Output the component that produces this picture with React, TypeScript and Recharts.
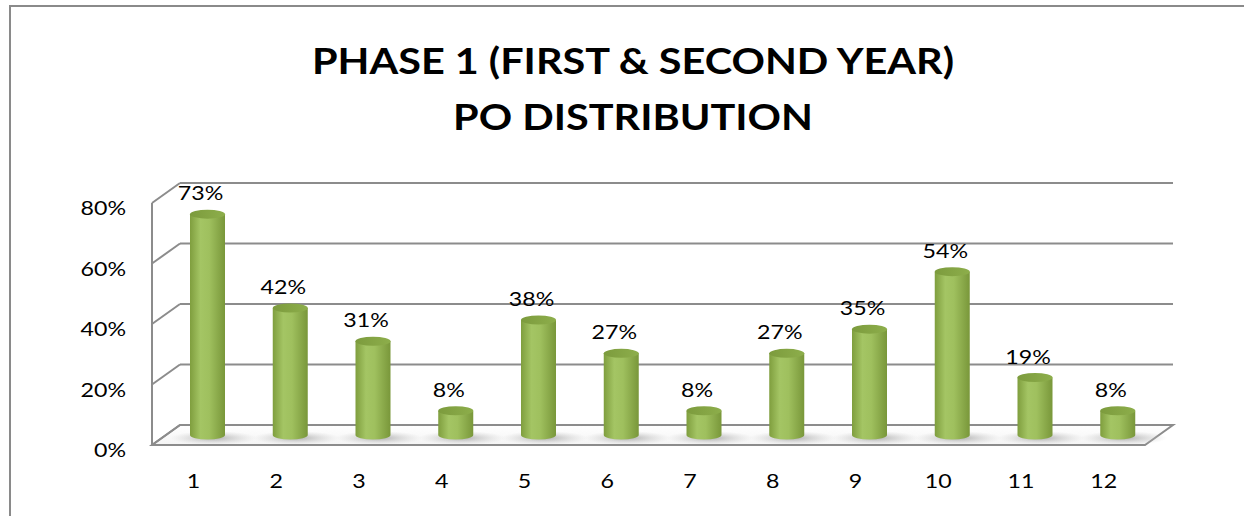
import React from 'react';
import { BarChart, Bar, XAxis, YAxis, CartesianGrid, LabelList } from 'recharts';

const categories = ['1', '2', '3', '4', '5', '6', '7', '8', '9', '10', '11', '12'];
const poValues = [0.73, 0.42, 0.31, 0.08, 0.38, 0.27, 0.08, 0.27, 0.35, 0.54, 0.19, 0.08];
const yTicks = [0, 0.2, 0.4, 0.6, 0.8];

const data = categories.map((name, i) => ({ name, value: poValues[i] }));

// depth of the fake 3D box
const DX = 28;
const DY = -20;
const GRID = '#8c8c8c';
const FONT = 'Lato, "Open Sans", sans-serif';
const STRETCH = 1.16; // reference text is a bit wider than Lato

const pct = (v: number) => `${Math.round(v * 100)}%`;

const WideText = ({ x, y, anchor, children }: any) => (
  <text
    transform={`translate(${x},${y}) scale(${STRETCH},1)`}
    textAnchor={anchor}
    fontSize={20}
    fontFamily={FONT}
    fill="#000"
  >
    {children}
  </text>
);

// back-wall gridline + left-wall diagonal, floor for the 0% line
const GridLine = (props: any) => {
  const { x1, y1, x2, y2, y, height } = props;
  const isFloor = Math.abs(y1 - (y + height)) < 1;
  return (
    <g>
      {isFloor && (
        <polygon
          points={`${x1},${y1} ${x2},${y2} ${x2 + DX},${y2 + DY} ${x1 + DX},${y1 + DY}`}
          fill="url(#floorFill)"
          stroke={GRID}
          strokeWidth={2}
        />
      )}
      <line x1={x1} y1={y1} x2={x1 + DX} y2={y1 + DY} stroke={GRID} strokeWidth={2} />
      <line x1={x1 + DX} y1={y1 + DY} x2={x2 + DX} y2={y2 + DY} stroke={GRID} strokeWidth={2} />
    </g>
  );
};

const Cylinder = (props: any) => {
  const { x, y, width, height } = props;
  const rx = width / 2;
  const ry = 4.5;
  const cx = x + rx + DX / 2;
  const top = y + DY / 2;
  const bottom = y + height + DY / 2;
  return (
    <g>
      <ellipse cx={cx + 6} cy={bottom + 3} rx={rx + 26} ry={7} fill="url(#shadowFill)" />
      <path
        d={`M${cx - rx},${top} L${cx - rx},${bottom} A${rx},${ry} 0 0 0 ${cx + rx},${bottom} L${cx + rx},${top} Z`}
        fill="url(#bodyFill)"
      />
      <ellipse cx={cx} cy={top} rx={rx} ry={ry} fill="url(#topFill)" />
    </g>
  );
};

const ValueLabel = (props: any) => {
  const { x, y, width, value } = props;
  return (
    <WideText x={x + width / 2 + 7} y={y - 24} anchor="middle">
      {pct(value)}
    </WideText>
  );
};

const YTick = (props: any) => {
  const { x, y, payload } = props;
  return (
    <WideText x={x} y={y + 12} anchor="end">
      {pct(payload.value)}
    </WideText>
  );
};

const XTick = (props: any) => {
  const { x, y, payload } = props;
  return (
    <WideText x={x} y={y + 43} anchor="middle">
      {payload.value}
    </WideText>
  );
};

export default function App() {
  return (
    <div style={{ position: 'absolute', left: 0, top: 0, width: 1244, height: 516, overflow: 'hidden', background: '#fff' }}>
      <svg width={0} height={0} style={{ position: 'absolute' }}>
        <defs>
          <linearGradient id="bodyFill" x1="0" y1="0" x2="1" y2="0">
            <stop offset="0%" stopColor="#7f9e3e" />
            <stop offset="30%" stopColor="#a4c564" />
            <stop offset="55%" stopColor="#9fc05e" />
            <stop offset="100%" stopColor="#79973a" />
          </linearGradient>
          <linearGradient id="topFill" x1="0" y1="0" x2="1" y2="0">
            <stop offset="0%" stopColor="#7c9b3d" />
            <stop offset="100%" stopColor="#8dae4b" />
          </linearGradient>
          <radialGradient id="shadowFill">
            <stop offset="0%" stopColor="#9a9a9a" stopOpacity={0.8} />
            <stop offset="100%" stopColor="#c8c8c8" stopOpacity={0} />
          </radialGradient>
          <linearGradient id="floorFill" x1="0" y1="1" x2="0" y2="0">
            <stop offset="0%" stopColor="#f4f4f4" />
            <stop offset="100%" stopColor="#ffffff" />
          </linearGradient>
        </defs>
      </svg>
      <div
        style={{
          position: 'absolute',
          left: 9,
          top: 5,
          width: 1300,
          height: 600,
          borderTop: '2px solid #8a8a8a',
          borderLeft: '2px solid #8a8a8a',
        }}
      />
      <div
        style={{
          position: 'absolute',
          left: 0,
          top: 32,
          width: 1266,
          textAlign: 'center',
          fontFamily: FONT,
          fontWeight: 700,
          fontSize: 36,
          lineHeight: '56px',
          color: '#000',
          transform: 'scaleX(1.15)',
          transformOrigin: '633px 0',
        }}
      >
        <div>PHASE 1 (FIRST &amp; SECOND YEAR)</div>
        <div>PO DISTRIBUTION</div>
      </div>
      <div style={{ position: 'absolute', left: 0, top: 0 }}>
        <BarChart width={1244} height={516} data={data} margin={{ top: 203, right: 99, bottom: 0, left: 0 }}>
          <CartesianGrid vertical={false} horizontal={(p: any) => <GridLine {...p} />} />
          <XAxis
            dataKey="name"
            height={71}
            tickSize={0}
            tickMargin={0}
            axisLine={{ stroke: GRID, strokeWidth: 2 }}
            tickLine={false}
            tick={<XTick />}
          />
          <YAxis
            width={152}
            domain={[0, 0.8]}
            ticks={yTicks}
            tickSize={0}
            tickMargin={26}
            axisLine={{ stroke: GRID, strokeWidth: 2 }}
            tickLine={false}
            tick={<YTick />}
          />
          <Bar dataKey="value" barSize={35} shape={<Cylinder />} isAnimationActive={false}>
            <LabelList dataKey="value" content={<ValueLabel />} />
          </Bar>
        </BarChart>
      </div>
    </div>
  );
}
